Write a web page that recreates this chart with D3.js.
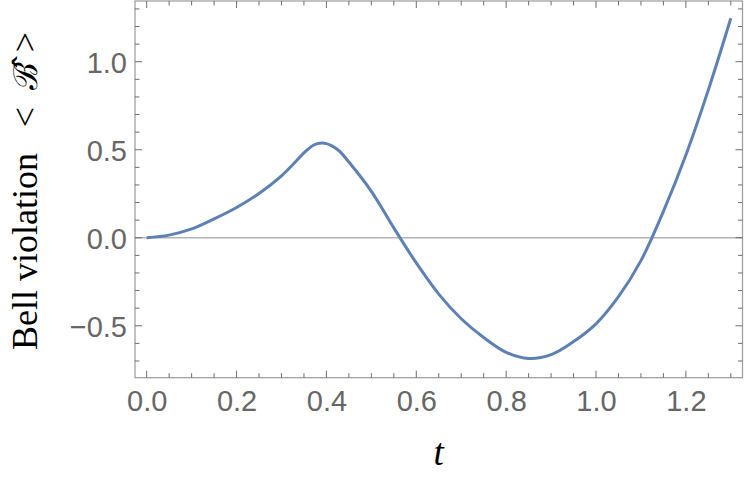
<!DOCTYPE html>
<html><head><meta charset="utf-8">
<script src="https://cdn.jsdelivr.net/npm/d3@7"></script>
<style>body{margin:0;background:#fff}svg{display:block}</style>
</head><body><svg id="c" width="747" height="484"></svg>
<script>
const tValues = [0,0.05,0.1,0.15,0.2,0.25,0.3,0.35,0.36,0.37,0.38,0.39,0.4,0.41,0.42,0.43,0.45,0.5,0.55,0.6,0.65,0.7,0.75,0.8,0.85,0.9,0.95,1.0,1.05,1.1,1.15,1.2,1.25,1.3];
const bellValues = [0,0.015,0.05,0.107,0.172,0.252,0.352,0.482,0.505,0.524,0.535,0.538,0.535,0.525,0.51,0.489,0.43,0.264,0.056,-0.143,-0.32,-0.46,-0.567,-0.651,-0.6855,-0.664,-0.59,-0.489,-0.335,-0.13,0.15,0.47,0.84,1.247];
const xTickLabels = ["0.0","0.2","0.4","0.6","0.8","1.0","1.2"];
const yTickLabels = ["\u22120.5","0.0","0.5","1.0"];
const xMajor = [0,0.2,0.4,0.6,0.8,1.0,1.2];
const yMajor = [-0.5,0,0.5,1.0];

const svg = d3.select("#c");
const L=135, R=742.5, T=1, B=377.7;
const x = d3.scaleLinear().domain([-0.026,1.326]).range([L,R]);
const y = d3.scaleLinear().domain([-0.795,1.345]).range([B,T]);

const gray="#9a9a9a", tickCol="#6e6e6e";
svg.append("line").attr("x1",L).attr("x2",R).attr("y1",y(0)).attr("y2",y(0))
  .attr("stroke","#b3b3b3").attr("stroke-width",1.5);

const pts = tValues.map((t,i)=>[t,bellValues[i]]);
svg.append("path").datum(pts)
  .attr("d", d3.line().x(d=>x(d[0])).y(d=>y(d[1])).curve(d3.curveCatmullRom.alpha(0.5)))
  .attr("fill","none").attr("stroke","#5E81B5").attr("stroke-width",3)
  .attr("stroke-linejoin","round");

svg.append("rect").attr("x",L).attr("y",T).attr("width",R-L).attr("height",B-T)
  .attr("fill","none").attr("stroke",gray).attr("stroke-width",1.2);

const xMinor = d3.range(0,27).map(i=>+(i*0.05).toFixed(2));
const yMinor = d3.range(-7,14).map(i=>+(i*0.1).toFixed(2));
const isMajX = v=>xMajor.some(m=>Math.abs(m-v)<1e-6);
const isMajY = v=>yMajor.some(m=>Math.abs(m-v)<1e-6);
const tg = svg.append("g").attr("stroke",tickCol).attr("stroke-width",1);
xMinor.forEach(v=>{
  const len = isMajX(v)?7:4.5;
  tg.append("line").attr("x1",x(v)).attr("x2",x(v)).attr("y1",B).attr("y2",B-len);
  tg.append("line").attr("x1",x(v)).attr("x2",x(v)).attr("y1",T).attr("y2",T+len);
});
yMinor.forEach(v=>{
  const len = isMajY(v)?7:4.5;
  tg.append("line").attr("y1",y(v)).attr("y2",y(v)).attr("x1",L).attr("x2",L+len);
  tg.append("line").attr("y1",y(v)).attr("y2",y(v)).attr("x1",R).attr("x2",R-len);
});

const xAxis = d3.axisBottom(x).tickValues(xMajor).tickFormat((d,i)=>xTickLabels[i]).tickSize(0).tickPadding(0);
const gx = svg.append("g").attr("transform",`translate(0,${B})`).call(xAxis);
gx.select(".domain").remove();
gx.selectAll("text").attr("font-family","Liberation Sans, Arial, sans-serif").attr("font-size",29)
  .attr("fill","#666").attr("dy",null).attr("y",33.5);

const yAxis = d3.axisLeft(y).tickValues(yMajor).tickFormat((d,i)=>yTickLabels[i]).tickSize(0).tickPadding(0);
const gy = svg.append("g").attr("transform",`translate(${L},0)`).call(yAxis);
gy.select(".domain").remove();
gy.selectAll("text").attr("font-family","Liberation Sans, Arial, sans-serif").attr("font-size",29)
  .attr("fill","#666").attr("x",-8).attr("dy","0.36em");

svg.append("text").attr("x",(L+R)/2).attr("y",465).attr("text-anchor","middle")
  .attr("font-family","Liberation Serif, Times New Roman, serif").attr("font-style","italic")
  .attr("font-size",37).attr("fill","#000").text("t");

const serif = "Liberation Serif, Times New Roman, serif";
function ylab(txt, cy, anchor, fam, size){
  return svg.append("text").attr("transform",`translate(37,${cy}) rotate(-90)`)
    .attr("text-anchor",anchor).attr("font-family",fam).attr("font-size",size)
    .attr("fill","#000").text(txt);
}
ylab("Bell violation", 350, "start", serif, 36);
ylab("<", 117, "middle", serif, 36);
ylab("\u212C\u0302", 76, "middle", "DejaVu Serif, serif", 33);
ylab(">", 42, "middle", serif, 36);
</script></body></html>
